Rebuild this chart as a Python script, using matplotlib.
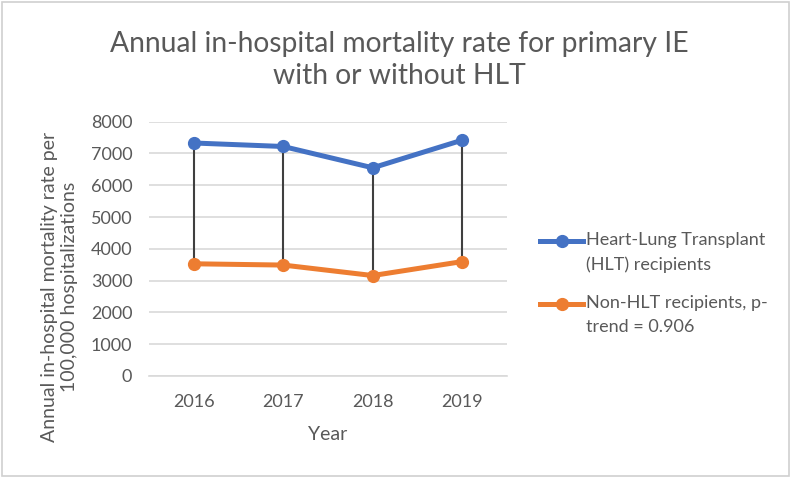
import matplotlib.pyplot as plt
from matplotlib.lines import Line2D
from matplotlib.patches import Rectangle

years = ['2016', '2017', '2018', '2019']
hlt = [7330, 7220, 6550, 7420]
non_hlt = [3530, 3490, 3160, 3600]
yticks = [0, 1000, 2000, 3000, 4000, 5000, 6000, 7000, 8000]
labels = ['Heart-Lung Transplant\n(HLT) recipients',
          'Non-HLT recipients, p-\ntrend = 0.906']
colors = ['#4472c4', '#ed7d31']

plt.rcParams['font.family'] = ['Lato', 'DejaVu Sans']
text_color = '#595959'
W, H = 791, 478

fig = plt.figure(figsize=(W / 100, H / 100), dpi=100)
ax = fig.add_axes([149 / W, 1 - 376 / H, (507 - 149) / W, (376 - 121.7) / H])

x = list(range(len(years)))

# high-low lines between the two series
ax.vlines(x, non_hlt, hlt, color='#3f3f3f', linewidth=1.5, zorder=2)

for vals, c in zip([hlt, non_hlt], colors):
    ax.plot(x, vals, color=c, linewidth=3.6, marker='o', markersize=8.5,
            solid_capstyle='round', zorder=3)

ax.set_xlim(-0.5, 3.5)
ax.set_ylim(0, 8000)
ax.set_xticks(x)
ax.set_xticklabels(years)
ax.set_yticks(yticks)
ax.tick_params(axis='both', length=0, labelsize=13, labelcolor=text_color)
ax.tick_params(axis='x', pad=13)
ax.tick_params(axis='y', pad=12)
ax.grid(axis='y', color='#d9d9d9', linewidth=1.2)
ax.set_axisbelow(True)
for s in ['top', 'right', 'left']:
    ax.spines[s].set_visible(False)
ax.spines['bottom'].set_color('#d9d9d9')
ax.spines['bottom'].set_linewidth(1.2)

# axis titles
fig.text(328 / W, 1 - 435 / H, 'Year', fontsize=14, color=text_color,
         ha='center', va='center')
fig.text(59.5 / W, 1 - 287 / H,
         'Annual in-hospital mortality rate per\n100,000 hospitalizations',
         fontsize=14, color=text_color, rotation=90, ha='center', va='center',
         linespacing=1.16)

# chart title
fig.text(0.5 + 4 / W, 1 - 60 / H,
         'Annual in-hospital mortality rate for primary IE\nwith or without HLT',
         fontsize=20.3, color=text_color, ha='center', va='center',
         linespacing=1.3)

# legend, handle aligned with first text line as in the original
for i, (lab, c) in enumerate(zip(labels, colors)):
    yc = 1 - (241 + 63 * i) / H
    fig.add_artist(Line2D([540 / W, 583 / W], [yc, yc], color=c, linewidth=3.6,
                          transform=fig.transFigure))
    fig.add_artist(Line2D([561.5 / W], [yc], color=c, marker='o', markersize=8.5,
                          transform=fig.transFigure))
    fig.text(586 / W, yc + 9 / H, lab, fontsize=13, color=text_color,
             ha='left', va='top', linespacing=1.6)

fig.patches.append(Rectangle((2 / W, 2 / H), 1 - 4 / W, 1 - 4 / H,
                             transform=fig.transFigure, fill=False,
                             edgecolor='#d0d0d0', linewidth=1.2))

fig.savefig('out.png', dpi=100)
